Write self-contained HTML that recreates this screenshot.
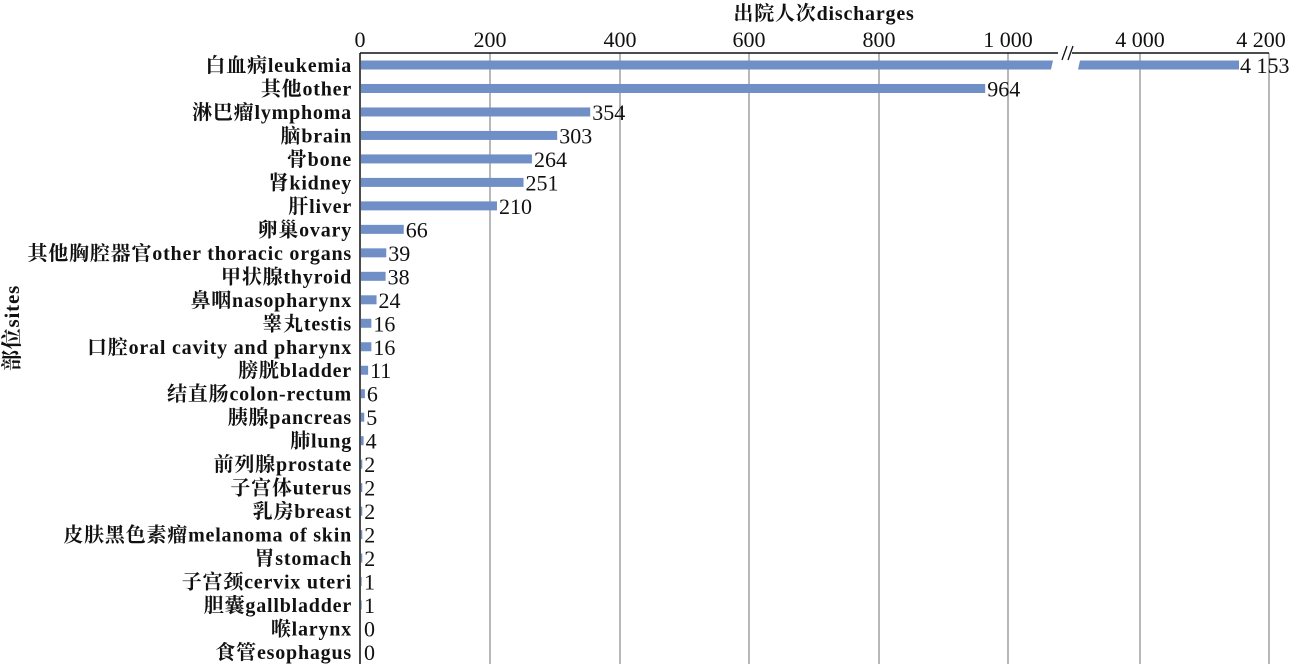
<!DOCTYPE html>
<html><head><meta charset="utf-8"><style>
html,body{margin:0;padding:0;background:#fff;}
svg text{font-family:"Liberation Serif","Noto Serif CJK SC",serif;fill:#111;}
</style></head><body>
<svg width="1289" height="664" viewBox="0 0 1289 664" xmlns="http://www.w3.org/2000/svg">
<g stroke="#888" stroke-width="1.2">
<line x1="490" y1="53" x2="490" y2="664"/>
<line x1="620" y1="53" x2="620" y2="664"/>
<line x1="749" y1="53" x2="749" y2="664"/>
<line x1="879" y1="53" x2="879" y2="664"/>
<line x1="1008" y1="53" x2="1008" y2="664"/>
<line x1="1140" y1="53" x2="1140" y2="664"/>
<line x1="1269" y1="53" x2="1269" y2="664"/>
</g>
<line x1="360" y1="53" x2="1269" y2="53" stroke="#111" stroke-width="1.5"/>
<line x1="360" y1="53" x2="360" y2="664" stroke="#111" stroke-width="1.5"/>
<rect x="1058" y="44" width="14" height="18" fill="#fff"/>
<line x1="1062" y1="60" x2="1067" y2="46" stroke="#111" stroke-width="1.3"/>
<line x1="1068" y1="60" x2="1073" y2="46" stroke="#111" stroke-width="1.3"/>
<g font-size="22" text-anchor="middle">
<text x="360" y="47">0</text><text x="490" y="47">200</text><text x="620" y="47">400</text>
<text x="749" y="47">600</text><text x="879" y="47">800</text><text x="1008" y="47">1 000</text>
<text x="1140" y="47">4 000</text><text x="1261" y="47">4 200</text>
</g>
<text x="824" y="20" font-size="20" font-weight="bold" letter-spacing="0.8" text-anchor="middle">出院人次discharges</text>
<text transform="translate(19,328) rotate(-90)" font-size="21" font-weight="bold" letter-spacing="0.8" text-anchor="middle">部位sites</text>
<g fill="#6f8fc6">
<polygon points="361,60.5 1053,60.5 1051,69.5 361,69.5"/>
<polygon points="1080,60.5 1239,60.5 1239,69.5 1078,69.5"/>
</g>
<g id="rows"></g>
</svg>
<script>
var d=[["白血病leukemia",4153],["其他other",964],["淋巴瘤lymphoma",354],["脑brain",303],["骨bone",264],["肾kidney",251],["肝liver",210],["卵巢ovary",66],["其他胸腔器官other thoracic organs",39],["甲状腺thyroid",38],["鼻咽nasopharynx",24],["睾丸testis",16],["口腔oral cavity and pharynx",16],["膀胱bladder",11],["结直肠colon-rectum",6],["胰腺pancreas",5],["肺lung",4],["前列腺prostate",2],["子宫体uterus",2],["乳房breast",2],["皮肤黑色素瘤melanoma of skin",2],["胃stomach",2],["子宫颈cervix uteri",1],["胆囊gallbladder",1],["喉larynx",0],["食管esophagus",0]];
var g=document.getElementById('rows'),s="";
for(var i=0;i<d.length;i++){var y=65+i*23.48;var v=d[i][1];
s+='<text x="352" y="'+(y+7)+'" text-anchor="end" font-size="20" font-weight="bold" letter-spacing="0.8">'+d[i][0]+'</text>';
if(i>0){var w=v*0.6475;if(v>0)s+='<rect x="361" y="'+(y-4.5)+'" width="'+w+'" height="9" fill="#6f8fc6"/>';
var lx=Math.max(361+w+2,364);s+='<text x="'+lx+'" y="'+(y+8)+'" font-size="22">'+v+'</text>';}
else s+='<text x="1240" y="'+(y+8)+'" font-size="22">4 153</text>';}
g.innerHTML=s;
</script>
</body></html>
